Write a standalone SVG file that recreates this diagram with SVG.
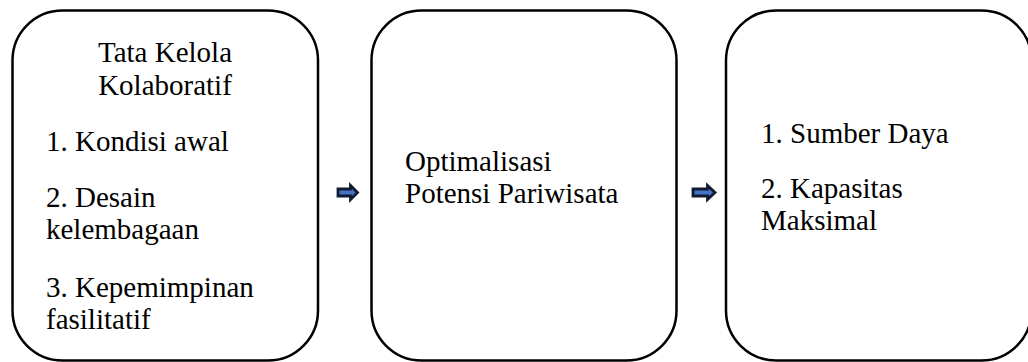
<svg xmlns="http://www.w3.org/2000/svg" width="1028" height="362" viewBox="0 0 1028 362">
  <style>
    .box { fill: #ffffff; stroke: #000000; stroke-width: 2.5; }
    .label { font-family: "Liberation Serif", "Times New Roman", serif; font-size: 29px; fill: #000000; }
    .mid { text-anchor: middle; }
    .arrow { fill: #4472c4; stroke: #101a30; stroke-width: 2.8; stroke-linejoin: miter; }
  </style>
  <rect width="1028" height="362" fill="#ffffff"/>

  <g id="node-tata-kelola">
    <rect class="box" x="12.5" y="10.5" width="305.5" height="350" rx="50" ry="50"/>
    <text class="label mid" x="165" y="62">Tata Kelola</text>
    <text class="label mid" x="165" y="95">Kolaboratif</text>
    <text class="label" x="46" y="151">1. Kondisi awal</text>
    <text class="label" x="46" y="207">2. Desain</text>
    <text class="label" x="46" y="239">kelembagaan</text>
    <text class="label" x="46" y="297">3. Kepemimpinan</text>
    <text class="label" x="46" y="329">fasilitatif</text>
  </g>

  <g id="node-optimalisasi">
    <rect class="box" x="371.5" y="10.5" width="305" height="350" rx="50" ry="50"/>
    <text class="label" x="405" y="171">Optimalisasi</text>
    <text class="label" x="405" y="203">Potensi Pariwisata</text>
  </g>

  <g id="node-hasil">
    <rect class="box" x="726" y="10.5" width="305.5" height="350" rx="50" ry="50"/>
    <text class="label" x="761" y="143">1. Sumber Daya</text>
    <text class="label" x="761" y="198">2. Kapasitas</text>
    <text class="label" x="761" y="230">Maksimal</text>
  </g>

  <g id="connectors">
    <path class="arrow" d="M338 189 H350.5 V185.5 L357.5 192.5 L350.5 199.5 V196 H338 Z"/>
    <path class="arrow" d="M693 189 H707.5 V185.5 L715 192.5 L707.5 199.5 V196 H693 Z"/>
  </g>
</svg>
